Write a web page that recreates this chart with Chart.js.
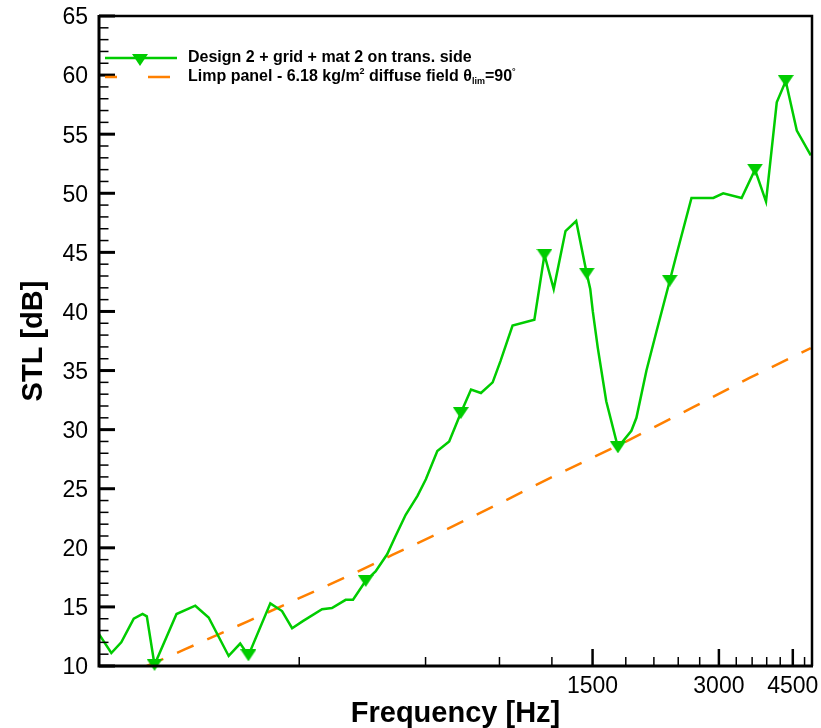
<!DOCTYPE html>
<html>
<head>
<meta charset="utf-8">
<script src="https://cdn.jsdelivr.net/npm/chart.js@4.4.1/dist/chart.umd.min.js"></script>
<style>
  html, body { margin: 0; padding: 0; background: #fff; }
  canvas { display: block; }
</style>
</head>
<body>
<canvas id="stlChart" width="821" height="728"></canvas>
<script>
var freqs = [100, 107, 113, 121, 127, 130, 135.6, 153, 169.6, 182.5, 203.7, 217, 227, 256, 273, 288.5, 306,
  340, 359, 387, 403, 432, 456, 486, 509, 538, 574, 601, 640, 683, 728, 770, 813, 867, 905, 967,
  1090, 1152, 1212, 1293, 1371, 1453, 1481, 1502, 1544, 1617, 1724, 1856, 1908, 2016, 2130, 2291,
  2377, 2581, 2752, 2909, 3072, 3398, 3657, 3885, 4121, 4329, 4600, 4967]
var stl = [12.7, 11.1, 12.0, 14.0, 14.4, 14.2, 10.1, 14.4, 15.1, 14.1, 10.85, 11.9, 10.9, 15.3, 14.65, 13.2, 13.8,
  14.8, 14.9, 15.6, 15.6, 17.2, 18.0, 19.45, 21.0, 22.8, 24.4, 25.8, 28.2, 29.0, 31.4, 33.4, 33.1, 34.0, 35.8, 38.8,
  39.3, 44.8, 41.9, 46.8, 47.65, 43.2, 41.9, 40.0, 36.9, 32.4, 28.5, 29.9, 31.0, 35.0, 38.3, 42.6,
  44.8, 49.6, 49.6, 49.6, 50.0, 49.6, 52.0, 49.3, 57.7, 59.5, 55.3, 53.2]
// points that carry a symbol
var markerFreqs = [135.6, 227, 432, 728, 1152, 1453, 1724, 2291, 3657, 4329]

// limp panel mass law, 6.18 kg/m2, diffuse field
var limpFreqs = [130, 160, 227, 290, 409, 500, 651, 942, 1217, 1806, 2606, 3558, 4967]
var limpStl = [10.0, 11.4, 13.8, 15.5, 17.9, 19.4, 21.3, 24.1, 26.1, 29.0, 31.9, 34.4, 36.9]

// axis ticks
var xTicks = [300, 600, 900, 1200, 1500, 1800, 2100, 2400, 2700, 3000, 3300, 3600, 3900, 4200, 4500, 4800]
var xLabels = [1500, 3000, 4500]
var yMin = 10, yMax = 65, yStep = 5

var green = '#00cc00'
var orange = '#ff8000'
var fontName = '"Liberation Sans", Arial, Helvetica, sans-serif'

// flat down-pointing triangle symbol
function makeTriangle(w, h, color) {
  var c = document.createElement('canvas')
  c.width = w
  c.height = h
  var g = c.getContext('2d')
  g.fillStyle = color
  g.beginPath()
  g.moveTo(0, 0)
  g.lineTo(w, 0)
  g.lineTo(w / 2, h)
  g.closePath()
  g.fill()
  return c
}
var tri = makeTriangle(16, 12, green)

function toPoints(xs, ys) {
  return xs.map(function (x, i) { return {x: x, y: ys[i]} })
}

// box frame and inward ticks
var frameTicks = {
  id: 'frameTicks',
  afterDraw: function (chart) {
    var ctx = chart.ctx, a = chart.chartArea
    var xs = chart.scales.x, ys = chart.scales.y
    ctx.save()
    ctx.strokeStyle = '#000'
    ctx.lineCap = 'butt'
    xTicks.forEach(function (v) {
      var px = xs.getPixelForValue(v)
      var major = xLabels.indexOf(v) >= 0
      ctx.lineWidth = major ? 2.5 : 1.5
      ctx.beginPath()
      ctx.moveTo(px, a.bottom)
      ctx.lineTo(px, a.bottom - (major ? 17 : 9))
      ctx.stroke()
    })
    for (var v = yMin; v <= yMax; v++) {
      var py = ys.getPixelForValue(v)
      var major = v % yStep == 0
      ctx.lineWidth = major ? 3 : 1.5
      ctx.beginPath()
      ctx.moveTo(a.left, py)
      ctx.lineTo(a.left + (major ? 16 : 9.5), py)
      ctx.stroke()
    }
    // frame
    ctx.lineWidth = 2.5
    ctx.beginPath()
    ctx.moveTo(a.left, a.top)
    ctx.lineTo(a.right, a.top)
    ctx.lineTo(a.right, a.bottom)
    ctx.stroke()
    ctx.lineWidth = 3
    ctx.beginPath()
    ctx.moveTo(a.left, a.top - 1)
    ctx.lineTo(a.left, a.bottom)
    ctx.lineTo(a.right + 1, a.bottom)
    ctx.stroke()
    ctx.restore()
  }
}

// tecplot style legend inside the plot
var plotLegend = {
  id: 'plotLegend',
  afterDraw: function (chart) {
    var ctx = chart.ctx
    var lx = 105, tx = 188, y1 = 58, y2 = 77
    ctx.save()
    ctx.lineWidth = 2.5
    ctx.strokeStyle = green
    ctx.beginPath()
    ctx.moveTo(lx, y1)
    ctx.lineTo(lx + 72, y1)
    ctx.stroke()
    ctx.drawImage(tri, lx + 35 - tri.width / 2, y1 - 4)
    ctx.strokeStyle = orange
    ctx.beginPath()
    ctx.moveTo(lx, y2)
    ctx.lineTo(lx + 12, y2)
    ctx.moveTo(lx + 43, y2)
    ctx.lineTo(lx + 65, y2)
    ctx.stroke()

    var big = 'bold 16px ' + fontName
    var small = 'bold 9px ' + fontName
    ctx.fillStyle = '#000'
    ctx.textBaseline = 'middle'
    ctx.font = big
    ctx.fillText('Design 2 + grid + mat 2 on trans. side', tx, y1)
    // second line with super/subscripts
    var parts = [
      ['Limp panel - 6.18 kg/m', big, 0],
      ['2', small, -5],
      [' diffuse field \u03b8', big, 0],
      ['lim', small, 5],
      ['=90', big, 0],
      ['\u00b0', small, -5]
    ]
    var x = tx
    parts.forEach(function (p) {
      ctx.font = p[1]
      ctx.fillText(p[0], x, y2 + p[2])
      x += ctx.measureText(p[0]).width
    })
    ctx.restore()
  }
}

var ctx = document.getElementById('stlChart')
var myChart = new Chart(ctx, {
  type: 'line',
  data: {
    datasets: [{
      label: 'Design 2 + grid + mat 2 on trans. side',
      data: toPoints(freqs, stl),
      borderColor: green,
      backgroundColor: green,
      borderWidth: 2.5,
      tension: 0,
      pointStyle: tri,
      pointRadius: function (c) {
        var p = c.raw
        return p && markerFreqs.indexOf(p.x) >= 0 ? 8 : 0
      },
      pointHoverRadius: 0,
      clip: false,
      order: 1
    }, {
      label: 'Limp panel - 6.18 kg/m\u00b2 diffuse field \u03b8lim=90\u00b0',
      data: toPoints(limpFreqs, limpStl),
      borderColor: orange,
      borderWidth: 2.5,
      borderDash: [18, 15],
      tension: 0,
      pointRadius: 0,
      order: 2
    }]
  },
  options: {
    responsive: false,
    animation: false,
    events: [],
    layout: { padding: { top: 16, right: 9, left: 0, bottom: 0 } },
    plugins: {
      legend: { display: false },
      tooltip: { enabled: false }
    },
    scales: {
      x: {
        type: 'logarithmic',
        min: 100,
        max: 5000,
        afterBuildTicks: function (scale) {
          scale.ticks = xTicks.map(function (v) { return {value: v} })
        },
        afterFit: function (scale) {
          scale.height = 62
          scale.paddingLeft = 0
          scale.paddingRight = 0
        },
        grid: { display: false, drawTicks: false },
        border: { display: false },
        ticks: {
          autoSkip: false,
          maxRotation: 0,
          minRotation: 0,
          padding: 7,
          color: '#000',
          font: { family: fontName, size: 23 },
          callback: function (v) { return xLabels.indexOf(v) >= 0 ? String(v) : '' }
        },
        title: {
          display: true,
          text: 'Frequency [Hz]',
          color: '#000',
          font: { family: fontName, size: 29, weight: 'bold', lineHeight: 1 },
          padding: { top: 0, bottom: 0 }
        }
      },
      y: {
        min: yMin,
        max: yMax,
        afterFit: function (scale) {
          scale.width = 99
          // keep the plot box where the reference has it
          scale.paddingTop = 0
          scale.paddingBottom = 0
        },
        grid: { display: false, drawTicks: false },
        border: { display: false },
        ticks: {
          stepSize: yStep,
          padding: 11,
          labelOffset: 2,
          color: '#000',
          font: { family: fontName, size: 23 }
        },
        title: {
          display: true,
          text: 'STL [dB]',
          color: '#000',
          font: { family: fontName, size: 29, weight: 'bold', lineHeight: 1 },
          padding: { top: 19, bottom: 0 }
        }
      }
    }
  },
  plugins: [frameTicks, plotLegend]
})
</script>
</body>
</html>
